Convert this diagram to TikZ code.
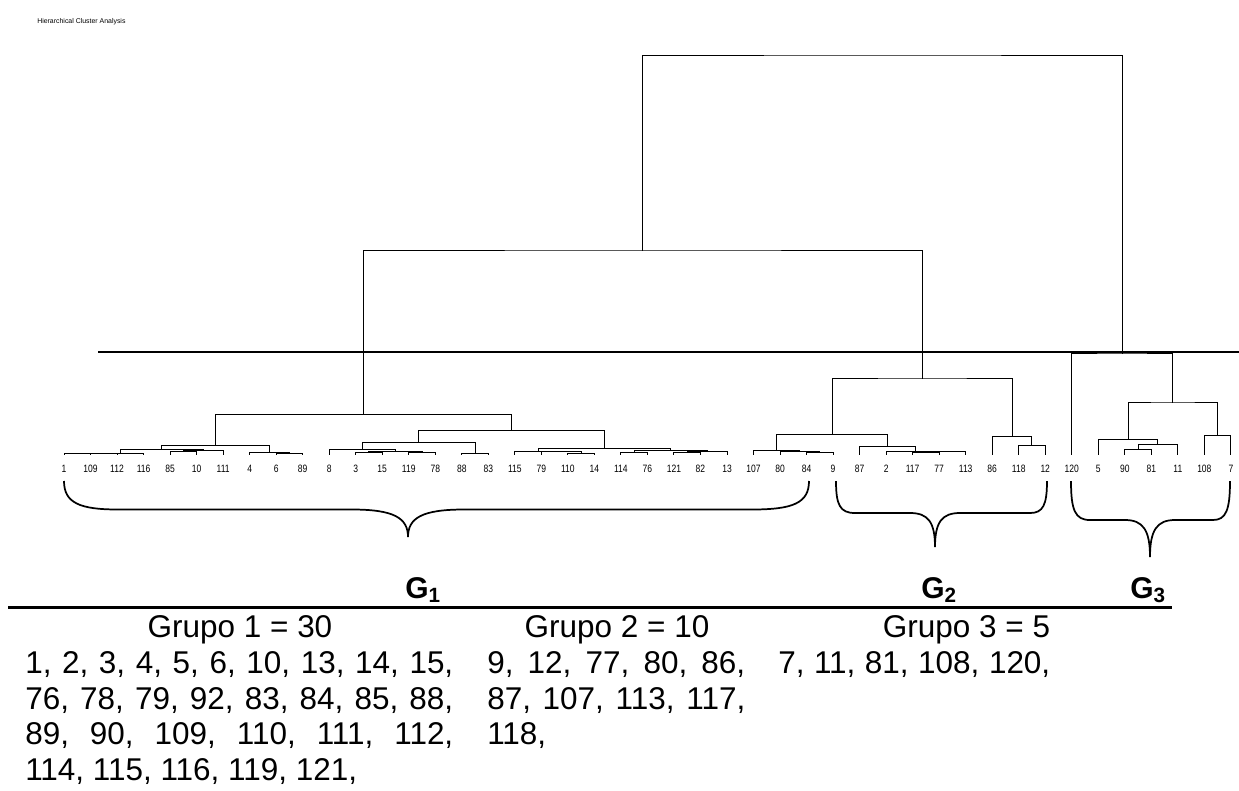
\documentclass[tikz,border=0pt]{standalone}
\usepackage{fontspec}
\setmainfont{Liberation Sans}
\newfontfamily\narrowfont[FakeStretch=0.8]{Liberation Sans}
\begin{document}
\begin{tikzpicture}[x=0.75pt,y=-0.75pt,
  dend/.style={line width=0.75pt, line join=miter, line cap=rect},
  cutline/.style={line width=1.5pt},
  brace/.style={line width=1.3pt},
  rule/.style={line width=2.25pt},
  leaflab/.style={font=\narrowfont\fontsize{8}{8}\selectfont, anchor=base, inner sep=0pt},
  glab/.style={font=\bfseries\fontsize{22.5}{22.5}\selectfont, anchor=base west, inner sep=0pt},
  body/.style={font=\fontsize{23.6}{23.6}\selectfont, anchor=base west, inner sep=0pt},
  head/.style={font=\fontsize{23.6}{23.6}\selectfont, anchor=base, inner sep=0pt}]
\useasboundingbox (0,0) rectangle (1239,790);

% title
\node[anchor=base west, inner sep=0pt, font=\fontsize{5.2}{5.2}\selectfont] (title) at (37,23) {Hierarchical Cluster Analysis};

% leaves
\foreach \lab [count=\i from 0] in {1,109,112,116,85,10,111,4,6,89,8,3,15,119,78,88,83,115,79,110,14,114,76,121,82,13,107,80,84,9,87,2,117,77,113,86,118,12,120,5,90,81,11,108,7} {
  \coordinate (L\i) at ({64+26.52*\i},454);
  \node[leaflab] (t\i) at ({64+26.52*\i},472.5) {\lab};
}

% merge points (x = centre of children, y = merge height)
\coordinate (a1) at (77.25,453.4);
\coordinate (a2) at (97.1,453.2);
\coordinate (a3) at (120.4,453.0);
\coordinate (a4a) at (183.35,451.5);
\coordinate (a4) at (203.2,450.3);
\coordinate (a5) at (161.8,449.3);
\coordinate (a6a) at (289.45,453.0);
\coordinate (a6) at (269.5,452.3);
\coordinate (a7) at (215.65,445);
\coordinate (b1a) at (368.95,452.3);
\coordinate (b1b) at (422.05,452.3);
\coordinate (b1) at (395.5,451.2);
\coordinate (b2) at (362.35,449.3);
\coordinate (b3) at (475.05,453);
\coordinate (b4) at (418.7,442.3);
\coordinate (c1a) at (581.15,453);
\coordinate (c1b) at (561.3,451.8);
\coordinate (c1) at (538.05,451);
\coordinate (c2a) at (634.15,452.3);
\coordinate (c2b) at (687.25,452.8);
\coordinate (c2c) at (707.1,451.7);
\coordinate (c2) at (670.6,450.5);
\coordinate (c3) at (604.3,448.3);
\coordinate (c4) at (511.5,430);
\coordinate (g1) at (363.6,414.3);
\coordinate (d1a) at (819.85,452.5);
\coordinate (d1b) at (799.9,451.5);
\coordinate (d1) at (776.7,450);
\coordinate (d2a) at (925.9,452.5);
\coordinate (d2b) at (945.8,451.8);
\coordinate (d2c) at (915.95,451);
\coordinate (d2) at (887.8,446.7);
\coordinate (d3) at (832.25,434.3);
\coordinate (d4a) at (1031.95,445.7);
\coordinate (d4) at (1012.1,436.7);
\coordinate (g2) at (922.2,378);
\coordinate (top) at (642.9,250);
\coordinate (e1) at (1138.05,449);
\coordinate (e2) at (1157.9,444);
\coordinate (e3) at (1128.1,439);
\coordinate (e4) at (1217.65,435);
\coordinate (e5) at (1172.9,402);
\coordinate (g3) at (1122.35,353);
\coordinate (root) at (882.6,55);

% joins
\draw[dend] (L0) |- (a1) -| (L1);
\draw[dend] (a1) |- (a2) -| (L2);
\draw[dend] (a2) |- (a3) -| (L3);
\draw[dend] (L4) |- (a4a) -| (L5);
\draw[dend] (a4a) |- (a4) -| (L6);
\draw[dend] (a3) |- (a5) -| (a4);
\draw[dend] (L8) |- (a6a) -| (L9);
\draw[dend] (L7) |- (a6) -| (a6a);
\draw[dend] (a5) |- (a7) -| (a6);
\draw[dend] (L11) |- (b1a) -| (L12);
\draw[dend] (L13) |- (b1b) -| (L14);
\draw[dend] (b1a) |- (b1) -| (b1b);
\draw[dend] (L10) |- (b2) -| (b1);
\draw[dend] (L15) |- (b3) -| (L16);
\draw[dend] (b2) |- (b4) -| (b3);
\draw[dend] (L19) |- (c1a) -| (L20);
\draw[dend] (L18) |- (c1b) -| (c1a);
\draw[dend] (L17) |- (c1) -| (c1b);
\draw[dend] (L21) |- (c2a) -| (L22);
\draw[dend] (L23) |- (c2b) -| (L24);
\draw[dend] (c2b) |- (c2c) -| (L25);
\draw[dend] (c2a) |- (c2) -| (c2c);
\draw[dend] (c1) |- (c3) -| (c2);
\draw[dend] (b4) |- (c4) -| (c3);
\draw[dend] (a7) |- (g1) -| (c4);
\draw[dend] (L28) |- (d1a) -| (L29);
\draw[dend] (L27) |- (d1b) -| (d1a);
\draw[dend] (L26) |- (d1) -| (d1b);
\draw[dend] (L32) |- (d2a) -| (L33);
\draw[dend] (d2a) |- (d2b) -| (L34);
\draw[dend] (L31) |- (d2c) -| (d2b);
\draw[dend] (L30) |- (d2) -| (d2c);
\draw[dend] (d1) |- (d3) -| (d2);
\draw[dend] (L36) |- (d4a) -| (L37);
\draw[dend] (L35) |- (d4) -| (d4a);
\draw[dend] (d3) |- (g2) -| (d4);
\draw[dend] (g1) |- (top) -| (g2);
\draw[dend] (L40) |- (e1) -| (L41);
\draw[dend] (e1) |- (e2) -| (L42);
\draw[dend] (L39) |- (e3) -| (e2);
\draw[dend] (L43) |- (e4) -| (L44);
\draw[dend] (e3) |- (e5) -| (e4);
\draw[dend] (L38) |- (g3) -| (e5);
\draw[dend] (top) |- (root) -| (g3);

% cut line
\coordinate (cutL) at (98,352);
\coordinate (cutR) at (1239,352);
\draw[cutline] (cutL) -- (cutR);

% braces
\coordinate (br1l) at (64,481);
\coordinate (br1t) at (408,537);
\coordinate (br1r) at (809,481);
\draw[brace] (br1l) .. controls (64,503) and (80,509.5) .. (118,509.5) -- (352,509.5)
  .. controls (394,509.5) and (408,518) .. (br1t)
  .. controls (408,518) and (422,509.5) .. (464,509.5) -- (752,509.5)
  .. controls (793,509.5) and (809,503) .. (br1r);
\coordinate (br2l) at (836,481);
\coordinate (br2t) at (935,547);
\coordinate (br2r) at (1047,481);
\draw[brace] (br2l) .. controls (836,505) and (840,513) .. (855,513) -- (910,513)
  .. controls (928,513) and (935,522) .. (br2t)
  .. controls (935,522) and (942,513) .. (960,513) -- (1030,513)
  .. controls (1043,513) and (1047,505) .. (br2r);
\coordinate (br3l) at (1071,481);
\coordinate (br3t) at (1150,557);
\coordinate (br3r) at (1230,481);
\draw[brace] (br3l) .. controls (1071,510) and (1075,520) .. (1090,520) -- (1125,520)
  .. controls (1143,520) and (1150,530) .. (br3t)
  .. controls (1150,530) and (1157,520) .. (1175,520) -- (1213,520)
  .. controls (1226,520) and (1230,510) .. (br3r);

% group labels
\node[glab] (G1) at (405,598) {G\raisebox{-3pt}{\fontsize{15.5}{15.5}\selectfont 1}};
\node[glab] (G2) at (921,598) {G\raisebox{-3pt}{\fontsize{15.5}{15.5}\selectfont 2}};
\node[glab] (G3) at (1130,598) {G\raisebox{-3pt}{\fontsize{15.5}{15.5}\selectfont 3}};

% rule
\coordinate (ruleL) at (8,607.7);
\coordinate (ruleR) at (1172,607.7);
\draw[rule] (ruleL) -- (ruleR);

% table text
\node[head] (h1) at (240,637.3) {Grupo 1 = 30};
\node[head] (h2) at (617,637.3) {Grupo 2 = 10};
\node[head] (h3) at (966.5,637.3) {Grupo 3 = 5};

\node[body] (r11) at (25,673.3) {\makebox[321pt][s]{1, 2, 3, 4, 5, 6, 10, 13, 14, 15,}};
\node[body] (r12) at (25,709.3) {\makebox[321pt][s]{76, 78, 79, 92, 83, 84, 85, 88,}};
\node[body] (r13) at (25,744.3) {\makebox[321pt][s]{89, 90, 109, 110, 111, 112,}};
\node[body] (r14) at (25,780) {114, 115, 116, 119, 121,};

\node[body] (r21) at (487,673.3) {\makebox[193.5pt][s]{9, 12, 77, 80, 86,}};
\node[body] (r22) at (487,709.3) {\makebox[193.5pt][s]{87, 107, 113, 117,}};
\node[body] (r23) at (487,744.3) {118,};

\node[body] (r31) at (778,673.3) {\makebox[204pt][s]{7, 11, 81, 108, 120,}};
\end{tikzpicture}
\end{document}
